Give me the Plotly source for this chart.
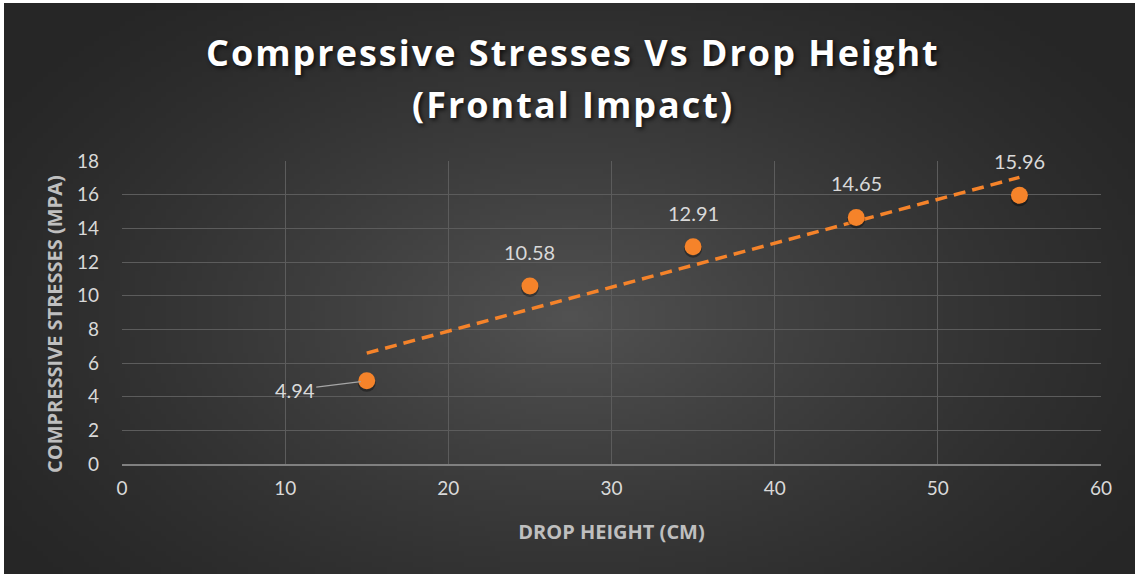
import base64
import struct
import zlib

import numpy as np
import plotly.graph_objects as go

# data
drop_height = [15, 25, 35, 45, 55]
stress = [4.94, 10.58, 12.91, 14.65, 15.96]
x_ticks = [0, 10, 20, 30, 40, 50, 60]
y_ticks = [0, 2, 4, 6, 8, 10, 12, 14, 16, 18]

ORANGE = "#F5832A"
TICK_COL = "#D9D9D9"
TITLE_COL = "#BFBFBF"

# plot area in pixels
W, H = 1139, 577
L, R, T, B = 122, 38, 161, 113
PW, PH = W - L - R, H - T - B


def px_x(p):
    return (p - L) / PW


def px_y(p):
    return (H - B - p) / PH


def gradient_png(w=220, h=112):
    # radial grey gradient, lighter in the middle
    rows = []
    cx, cy = 0.5, 0.55
    for j in range(h):
        row = bytearray([0])
        for i in range(w):
            dx = (i / (w - 1) - cx) / 0.62
            dy = (j / (h - 1) - cy) / 0.75
            r = min(1.0, (dx * dx + dy * dy) ** 0.5)
            v = 38 + (82 - 38) * (1 - r) ** 1.3
            row.append(int(v))
        rows.append(bytes(row))
    raw = b"".join(rows)

    def chunk(tag, data):
        c = struct.pack(">I", len(data)) + tag + data
        return c + struct.pack(">I", zlib.crc32(tag + data) & 0xFFFFFFFF)

    png = b"\x89PNG\r\n\x1a\n"
    png += chunk(b"IHDR", struct.pack(">IIBBBBB", w, h, 8, 0, 0, 0, 0))
    png += chunk(b"IDAT", zlib.compress(raw, 9))
    png += chunk(b"IEND", b"")
    return "data:image/png;base64," + base64.b64encode(png).decode()


# linear trendline (Excel style)
slope, icpt = np.polyfit(drop_height, stress, 1)
trend_x = [drop_height[0], drop_height[-1]]
trend_y = [slope * v + icpt for v in trend_x]

fig = go.Figure()

fig.add_trace(go.Scatter(
    x=trend_x, y=trend_y, mode="lines",
    line=dict(color=ORANGE, width=3.5, dash="12px,7px"),
    hoverinfo="skip", showlegend=False,
))

# soft marker shadow
fig.add_trace(go.Scatter(
    x=drop_height, y=[v - 0.12 for v in stress], mode="markers",
    marker=dict(size=18, color="rgba(0,0,0,0.35)"),
    hoverinfo="skip", showlegend=False,
))

fig.add_trace(go.Scatter(
    x=drop_height, y=stress, mode="markers",
    marker=dict(size=17, color=ORANGE, line=dict(width=0)),
    showlegend=False,
))

label_font = dict(family="Lato", size=20, color=TICK_COL)
annotations = []
for i, (xv, yv) in enumerate(zip(drop_height, stress)):
    if i == 0:
        annotations.append(dict(
            x=xv, y=yv, text=f"{yv:.2f}", showarrow=True,
            ax=-72, ay=9, arrowhead=0, arrowwidth=1.2, arrowcolor="#A6A6A6",
            standoff=6, font=label_font,
        ))
    else:
        annotations.append(dict(
            x=xv, y=yv, text=f"{yv:.2f}", showarrow=False, yshift=34,
            font=label_font,
        ))

title_font = dict(family="Open Sans", size=36, color="white", weight="bold",
                  shadow="2px 2px 4px rgba(0,0,0,0.7)")
annotations.append(dict(
    xref="paper", yref="paper", x=px_x(573), y=px_y(52),
    text="Compressive Stresses Vs Drop Height", showarrow=False,
    xanchor="center", yanchor="middle", font=title_font,
))
annotations.append(dict(
    xref="paper", yref="paper", x=px_x(573), y=px_y(104),
    text="(Frontal Impact)", showarrow=False,
    xanchor="center", yanchor="middle", font=title_font,
))

axis_title_font = dict(family="Open Sans", size=20, color=TITLE_COL, weight="bold")

# y axis title sits a little below the plot centre in the original
annotations.append(dict(
    xref="paper", yref="paper", x=px_x(54), y=px_y(324),
    text="COMPRESSIVE STRESSES (MPA)", showarrow=False, textangle=-90,
    xanchor="center", yanchor="middle", font=axis_title_font,
))

fig.update_layout(
    width=W, height=H,
    margin=dict(l=L, r=R, t=T, b=B),
    paper_bgcolor="white",
    plot_bgcolor="rgba(0,0,0,0)",
    showlegend=False,
    annotations=annotations,
    images=[dict(
        source=gradient_png(), xref="paper", yref="paper",
        x=px_x(4), y=px_y(3), sizex=px_x(1135) - px_x(4), sizey=px_y(3) - px_y(574),
        xanchor="left", yanchor="top", sizing="stretch", layer="below",
    )],
    xaxis=dict(
        range=[0, 60], tickvals=x_ticks, showgrid=True, gridcolor="#5C5C5C", gridwidth=1,
        zeroline=False, showline=True, linecolor="#808080", linewidth=1.5,
        ticks="", ticklabelstandoff=6, tickfont=dict(family="Lato", size=19, color=TICK_COL),
        title=dict(text="DROP HEIGHT (CM)", standoff=27, font=axis_title_font),
    ),
    yaxis=dict(
        range=[0, 18], tickvals=y_ticks, showgrid=True, gridcolor="#5C5C5C", gridwidth=1,
        zeroline=False, showline=False,
        ticks="", ticklabelstandoff=22, tickfont=dict(family="Lato", size=19, color=TICK_COL),
    ),
)

# drop the page margin and widen the title letter spacing a touch
post = """
document.body.style.margin = '0';
document.querySelectorAll('.annotation-text').forEach(function (t) {
  if (t.textContent.indexOf('Stresses Vs') >= 0 || t.textContent.indexOf('Frontal') >= 0) {
    t.style.letterSpacing = '2px';
  }
});
"""
fig.write_html("out.html", post_script=post, config={"displayModeBar": False})
